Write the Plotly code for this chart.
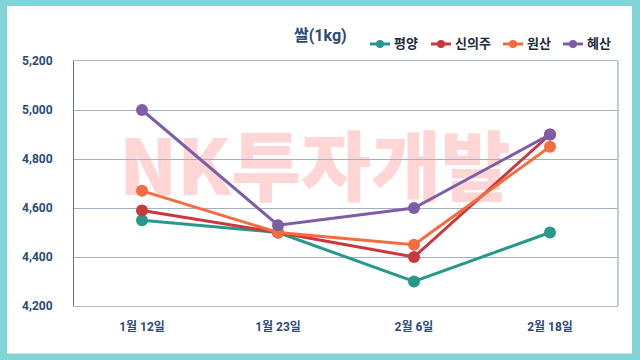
import plotly.graph_objects as go

dates = ["1월 12일", "1월 23일", "2월 6일", "2월 18일"]
pyongyang = [4550, 4500, 4300, 4500]
sinuiju = [4590, 4500, 4400, 4900]
wonsan = [4670, 4500, 4450, 4850]
hyesan = [5000, 4530, 4600, 4900]

series = [
    ("평양", pyongyang, "#27998a"),
    ("신의주", sinuiju, "#c7383f"),
    ("원산", wonsan, "#f46c3f"),
    ("혜산", hyesan, "#7d5ea6"),
]
legend_left = [370, 431, 503, 563]  # pixel x of each legend key

L, R, T, B = 74, 618, 61, 305.6
W, H = R - L, B - T
def px(x): return (x - L) / W
def py(y): return (B - y) / H

fig = go.Figure()
for name, vals, col in series:
    fig.add_trace(go.Scatter(
        x=dates, y=vals, name=name, mode="lines+markers",
        line=dict(color=col, width=3),
        marker=dict(color=col, size=12),
        showlegend=False,
    ))

font = "Roboto, Noto Sans CJK KR, sans-serif"
shapes = [
    dict(type="rect", xref="paper", yref="paper", layer="below",
         x0=px(7), x1=px(632), y0=py(353), y1=py(6),
         fillcolor="white", line=dict(width=0)),
    dict(type="rect", xref="paper", yref="paper", layer="below",
         x0=px(120), x1=px(510), y0=py(214), y1=py(134),
         fillcolor="rgba(0,0,0,0)", line=dict(width=0),
         label=dict(text="<b>NK투자개발</b>", font=dict(family="Noto Sans CJK KR Black, Noto Sans CJK KR, sans-serif", size=76, color="#ffd5d5", weight=900))),
]
annotations = [
    dict(text="<b>쌀(1kg)</b>", xref="paper", yref="paper", x=px(320), y=py(36),
         showarrow=False, font=dict(family=font, size=16, color="#2b4a78"),
         xanchor="center", yanchor="middle"),
]
ly = 44
for (name, _, col), lx in zip(series, legend_left):
    shapes.append(dict(type="line", xref="paper", yref="paper",
                       x0=px(lx), x1=px(lx + 20), y0=py(ly), y1=py(ly),
                       line=dict(color=col, width=3)))
    shapes.append(dict(type="circle", xref="paper", yref="paper",
                       x0=px(lx + 6), x1=px(lx + 14), y0=py(ly + 4), y1=py(ly - 4),
                       fillcolor=col, line=dict(width=0)))
    annotations.append(dict(text="<b>" + name + "</b>", xref="paper", yref="paper",
                            x=px(lx + 22), y=py(ly), xanchor="left", yanchor="middle",
                            showarrow=False,
                            font=dict(family=font, size=13, color="#1f2a3c")))

fig.update_layout(
    width=640, height=360,
    margin=dict(l=L, r=640 - R, t=T, b=360 - B, autoexpand=False),
    paper_bgcolor="#80d4d8",
    plot_bgcolor="rgba(0,0,0,0)",
    showlegend=False,
    font=dict(family=font),
    shapes=shapes,
    annotations=annotations,
)
fig.update_xaxes(
    type="category", range=[-0.5, 3.5], showgrid=False,
    showline=True, linecolor="#b0b8c4", linewidth=1, mirror=True,
    tickfont=dict(family=font, size=12, color="#2b4a78", weight="bold"),
    ticks="", ticklabelstandoff=10,
)
fig.update_yaxes(
    range=[4200, 5200], dtick=200, tickformat=",",
    showgrid=True, gridcolor="#9fb0c8", gridwidth=1,
    showline=True, linecolor="#5a7194", linewidth=1, mirror=False,
    zeroline=False,
    tickfont=dict(family=font, size=12, color="#2b4a78", weight="bold"),
    ticks="", ticklabelstandoff=18,
)
fig.add_shape(type="line", xref="paper", yref="paper", x0=1, x1=1, y0=0, y1=1,
              line=dict(color="#b0b8c4", width=1.5))
fig.write_html("out.html", config={"displayModeBar": False},
               post_script="document.body.style.margin='0';")
